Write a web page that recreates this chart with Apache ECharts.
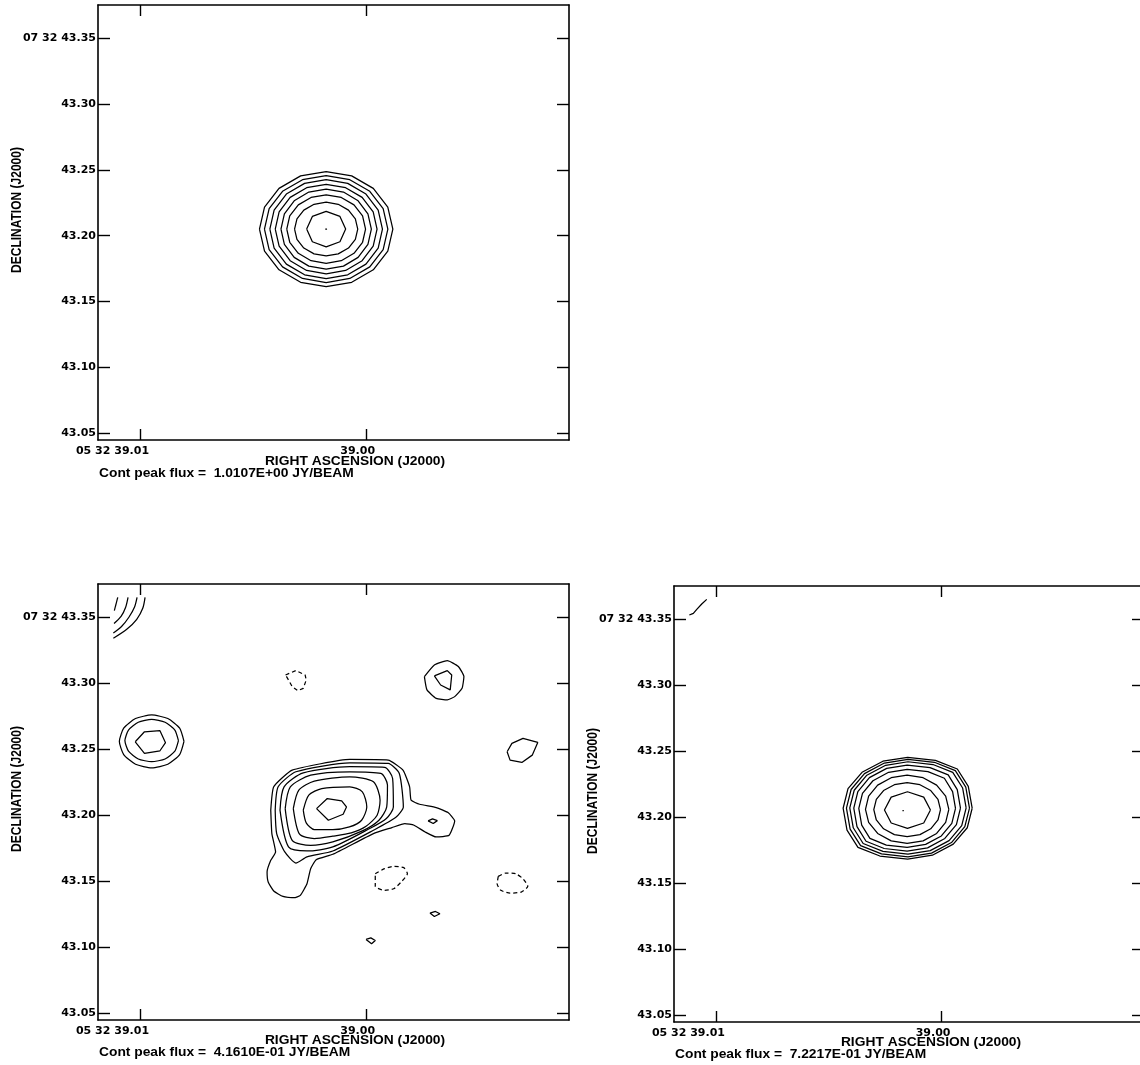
<!DOCTYPE html>
<html><head><meta charset="utf-8">
<script src="https://cdn.jsdelivr.net/npm/echarts@6/dist/echarts.min.js"></script>
<style>html,body{margin:0;padding:0;background:#fff}#c{width:1140px;height:1065px}</style>
</head><body><div id="c"></div>
<script>
// x = RA offset in milliseconds of time from 05 32 39.00 ; y = Dec seconds of arc (07 32 xx)
const RA_TICKS = [10, 0];
const RA_TICK_LABELS = ['05 32 39.01', '39.00'];
const DEC_TICKS = [43.05, 43.10, 43.15, 43.20, 43.25, 43.30, 43.35];
const DEC_TICK_LABELS = ['43.05', '43.10', '43.15', '43.20', '43.25', '43.30', '07 32 43.35'];
const RA_RANGE = [-8.98, 11.86];
const DEC_RANGE = [43.0449, 43.3751];
const PEAK_FLUX = ['1.0107E+00', '4.1610E-01', '7.2217E-01'];

// ---------- Panel 1 contours ----------
const P1_DOT = [[1.805,43.2050],[1.765,43.2058],[1.725,43.2050],[1.765,43.2042]];
const P1_R1 = [[2.628,43.2050],[2.375,43.2146],[1.765,43.2185],[1.155,43.2146],[0.902,43.2050],[1.155,43.1954],[1.765,43.1915],[2.375,43.1954]];
const P1_R2 = [[3.163,43.2050],[3.057,43.2128],[2.753,43.2194],[2.300,43.2238],[1.765,43.2254],[1.230,43.2238],[0.777,43.2194],[0.473,43.2128],[0.367,43.2050],[0.473,43.1972],[0.777,43.1906],[1.230,43.1862],[1.765,43.1847],[2.300,43.1862],[2.753,43.1906],[3.057,43.1972]];
const P1_R3 = [[3.508,43.2050],[3.376,43.2150],[2.997,43.2234],[2.433,43.2290],[1.765,43.2310],[1.097,43.2290],[0.533,43.2234],[0.154,43.2150],[0.022,43.2050],[0.154,43.1950],[0.533,43.1866],[1.097,43.1810],[1.765,43.1790],[2.433,43.1810],[2.997,43.1866],[3.376,43.1950]];
const P1_R4 = [[3.765,43.2050],[3.613,43.2166],[3.179,43.2265],[2.531,43.2331],[1.765,43.2354],[0.999,43.2331],[0.351,43.2265],[-0.083,43.2166],[-0.235,43.2050],[-0.083,43.1934],[0.351,43.1835],[0.999,43.1769],[1.765,43.1746],[2.531,43.1769],[3.179,43.1835],[3.613,43.1934]];
const P1_R5 = [[4.017,43.2050],[3.846,43.2180],[3.357,43.2291],[2.627,43.2364],[1.765,43.2390],[0.903,43.2364],[0.173,43.2291],[-0.316,43.2180],[-0.487,43.2050],[-0.316,43.1920],[0.173,43.1810],[0.903,43.1736],[1.765,43.1710],[2.627,43.1736],[3.357,43.1810],[3.846,43.1920]];
const P1_R6 = [[4.256,43.2050],[4.067,43.2194],[3.526,43.2316],[2.719,43.2397],[1.765,43.2426],[0.811,43.2397],[0.004,43.2316],[-0.537,43.2194],[-0.726,43.2050],[-0.537,43.1906],[0.004,43.1784],[0.811,43.1703],[1.765,43.1674],[2.719,43.1703],[3.526,43.1784],[4.067,43.1906]];
const P1_R7 = [[4.495,43.2050],[4.287,43.2206],[3.695,43.2337],[2.811,43.2425],[1.765,43.2456],[0.719,43.2425],[-0.165,43.2337],[-0.757,43.2206],[-0.965,43.2050],[-0.757,43.1894],[-0.165,43.1763],[0.719,43.1675],[1.765,43.1644],[2.811,43.1675],[3.695,43.1763],[4.287,43.1894]];
const P1_R8 = [[4.716,43.2050],[4.492,43.2217],[3.851,43.2359],[2.895,43.2454],[1.765,43.2487],[0.635,43.2454],[-0.321,43.2359],[-0.962,43.2217],[-1.186,43.2050],[-0.962,43.1883],[-0.321,43.1741],[0.635,43.1646],[1.765,43.1613],[2.895,43.1646],[3.851,43.1741],[4.492,43.1883]];

// ---------- Panel 2 contours ----------
const P2_TL_A = [[10.986,43.3650],[11.137,43.3549]];
const P2_TL_B = [[10.531,43.3650],[10.641,43.3573],[10.840,43.3505],[11.150,43.3452]];
const P2_TL_C = [[10.132,43.3650],[10.243,43.3577],[10.486,43.3501],[10.818,43.3429],[11.181,43.3380]];
const P2_TL_D = [[9.778,43.3650],[9.880,43.3567],[10.146,43.3484],[10.588,43.3408],[11.181,43.3340]];
const P2_W_OUT = [[8.055,43.2559],[8.247,43.2659],[8.770,43.2732],[9.485,43.2759],[10.200,43.2732],[10.723,43.2659],[10.915,43.2559],[10.723,43.2459],[10.200,43.2386],[9.485,43.2359],[8.770,43.2386],[8.247,43.2459]];
const P2_W_MID = [[8.300,43.2565],[8.459,43.2645],[8.892,43.2704],[9.485,43.2725],[10.078,43.2704],[10.511,43.2645],[10.670,43.2565],[10.511,43.2485],[10.078,43.2426],[9.485,43.2405],[8.892,43.2426],[8.459,43.2485]];
const P2_W_IN = [[10.212,43.2556],[9.804,43.2632],[9.118,43.2640],[8.873,43.2549],[9.118,43.2488],[9.804,43.2468]];
const P2_NEG_N = [[3.562,43.3062],[3.105,43.3095],[2.696,43.3062],[2.647,43.3024],[2.778,43.2961],[3.023,43.2943],[3.268,43.2974],[3.431,43.3024]];
const P2_NE_OUT = [[-2.582,43.3050],[-3.023,43.3138],[-3.595,43.3171],[-4.085,43.3126],[-4.330,43.3050],[-4.248,43.2961],[-3.922,43.2898],[-3.595,43.2873],[-3.105,43.2885],[-2.696,43.2949]];
const P2_NE_IN = [[-3.023,43.3055],[-3.595,43.3095],[-3.791,43.3062],[-3.725,43.2949],[-3.301,43.2986]];
const P2_E = [[-6.242,43.2481],[-6.454,43.2544],[-6.944,43.2582],[-7.598,43.2551],[-7.353,43.2455],[-6.895,43.2400],[-6.373,43.2417]];
const P2_C1 = [[2.190,43.2050],[1.716,43.2126],[1.078,43.2109],[0.866,43.2063],[1.013,43.2007],[1.667,43.1962]];
const P2_C2 = [[2.778,43.2038],[2.533,43.2152],[1.961,43.2202],[0.719,43.2215],[0.163,43.2177],[-0.033,43.2063],[0.196,43.1962],[0.735,43.1911],[1.471,43.1891],[2.288,43.1891],[2.647,43.1942]];
const P2_C3 = [[3.219,43.2050],[2.974,43.2190],[2.288,43.2258],[0.719,43.2291],[-0.327,43.2253],[-0.621,43.2114],[-0.490,43.2000],[0.000,43.1916],[0.654,43.1866],[1.471,43.1841],[2.288,43.1823],[2.941,43.1856]];
const P2_C4 = [[3.578,43.2050],[3.350,43.2215],[2.451,43.2303],[0.719,43.2329],[-0.654,43.2316],[-0.948,43.2228],[-0.915,43.2063],[-0.572,43.1962],[0.163,43.1881],[1.471,43.1798],[2.451,43.1772],[3.268,43.1810]];
const P2_C5 = [[3.807,43.2038],[3.627,43.2215],[2.778,43.2321],[0.719,43.2367],[-0.817,43.2362],[-1.176,43.2278],[-1.209,43.2063],[-0.899,43.1975],[-0.163,43.1899],[1.471,43.1760],[2.614,43.1729],[3.431,43.1760]];
const P2_C6 = [[4.020,43.2038],[3.889,43.2215],[3.105,43.2329],[0.719,43.2397],[-0.980,43.2392],[-1.471,43.2316],[-1.650,43.2063],[-1.307,43.1982],[-0.327,43.1886],[1.471,43.1729],[2.614,43.1684],[3.105,43.1638],[3.595,43.1722],[3.954,43.1861]];
const P2_C7 = [[4.216,43.2038],[4.085,43.2215],[3.268,43.2341],[0.719,43.2422],[-0.980,43.2417],[-1.634,43.2341],[-1.928,43.2215],[-1.993,43.2114],[-2.369,43.2083],[-3.105,43.2058],[-3.627,43.2020],[-3.922,43.1957],[-3.676,43.1848],[-3.105,43.1835],[-2.614,43.1873],[-2.124,43.1924],[-1.716,43.1937],[-1.144,43.1906],[-0.327,43.1861],[1.471,43.1704],[2.206,43.1663],[2.451,43.1595],[2.614,43.1481],[2.908,43.1393],[3.186,43.1375],[3.676,43.1385],[4.085,43.1426],[4.330,43.1494],[4.379,43.1570],[4.216,43.1658],[4.003,43.1722],[4.167,43.1861]];
const P2_HEAD = [[-2.745,43.1957],[-2.941,43.1972],[-3.154,43.1959],[-2.974,43.1937]];
const P2_NEG_S = [[-0.408,43.1557],[-0.817,43.1595],[-1.225,43.1613],[-1.667,43.1603],[-1.830,43.1557],[-1.552,43.1494],[-1.225,43.1443],[-0.817,43.1431],[-0.408,43.1461]];
const P2_NEG_SE = [[-5.850,43.1537],[-6.176,43.1562],[-6.618,43.1557],[-6.944,43.1519],[-7.157,43.1461],[-6.863,43.1418],[-6.373,43.1410],[-5.964,43.1431],[-5.801,43.1481]];
const P2_SPOT_A = [[-2.827,43.1259],[-3.072,43.1271],[-3.268,43.1254],[-3.023,43.1233]];
const P2_SPOT_B = [[0.000,43.1059],[-0.212,43.1071],[-0.408,43.1051],[-0.245,43.1026]];

// ---------- Panel 3 contours ----------
const P3_EDGE = [[11.180,43.3531],[11.002,43.3544],[10.851,43.3574],[10.630,43.3615],[10.408,43.3650]];
const P3_DOT = [[1.730,43.2049],[1.700,43.2054],[1.670,43.2049],[1.700,43.2044]];
const P3_R1 = [[0.488,43.2054],[0.787,43.2152],[1.508,43.2193],[2.229,43.2152],[2.528,43.2054],[2.229,43.1956],[1.508,43.1915],[0.787,43.1956]];
const P3_R2 = [[0.043,43.2057],[0.155,43.2135],[0.476,43.2202],[0.956,43.2246],[1.522,43.2262],[2.088,43.2246],[2.568,43.2202],[2.889,43.2135],[3.001,43.2057],[2.889,43.1979],[2.568,43.1912],[2.088,43.1868],[1.522,43.1853],[0.956,43.1868],[0.476,43.1912],[0.155,43.1979]];
const P3_R3 = [[-0.326,43.2060],[-0.186,43.2159],[0.215,43.2243],[0.815,43.2299],[1.522,43.2319],[2.229,43.2299],[2.829,43.2243],[3.230,43.2159],[3.370,43.2060],[3.230,43.1961],[2.829,43.1877],[2.229,43.1821],[1.522,43.1801],[0.815,43.1821],[0.215,43.1877],[-0.186,43.1961]];
const P3_R4 = [[-0.622,43.2067],[-0.493,43.2194],[-0.129,43.2295],[0.600,43.2345],[1.522,43.2363],[2.343,43.2340],[3.038,43.2276],[3.503,43.2180],[3.666,43.2067],[3.537,43.1940],[3.173,43.1840],[2.444,43.1789],[1.522,43.1772],[0.701,43.1794],[0.006,43.1858],[-0.459,43.1954]];
const P3_R5 = [[-0.842,43.2069],[-0.700,43.2209],[-0.298,43.2320],[0.506,43.2375],[1.523,43.2395],[2.429,43.2370],[3.195,43.2300],[3.708,43.2194],[3.888,43.2069],[3.746,43.1929],[3.344,43.1818],[2.540,43.1763],[1.523,43.1743],[0.617,43.1768],[-0.149,43.1839],[-0.662,43.1944]];
const P3_R6 = [[-1.094,43.2070],[-0.939,43.2221],[-0.501,43.2340],[0.377,43.2399],[1.486,43.2420],[2.474,43.2393],[3.310,43.2318],[3.870,43.2204],[4.066,43.2070],[3.911,43.1920],[3.473,43.1801],[2.595,43.1741],[1.486,43.1720],[0.498,43.1747],[-0.338,43.1823],[-0.898,43.1936]];
const P3_R7 = [[-1.242,43.2069],[-1.078,43.2228],[-0.615,43.2353],[0.313,43.2416],[1.486,43.2438],[2.531,43.2410],[3.415,43.2330],[4.007,43.2210],[4.214,43.2069],[4.050,43.1910],[3.587,43.1785],[2.659,43.1722],[1.486,43.1700],[0.441,43.1728],[-0.443,43.1808],[-1.035,43.1928]];
const P3_R8 = [[-1.361,43.2068],[-1.189,43.2234],[-0.703,43.2365],[0.270,43.2430],[1.500,43.2453],[2.596,43.2424],[3.523,43.2340],[4.144,43.2216],[4.361,43.2068],[4.189,43.1902],[3.703,43.1772],[2.730,43.1706],[1.500,43.1683],[0.404,43.1712],[-0.523,43.1796],[-1.144,43.1920]];

// ---------- build ----------
const SOLID = 'solid', DASH = [4, 3];
const CONTOURS = [
  {g:0,d:P1_DOT},{g:0,d:P1_R1},{g:0,d:P1_R2},{g:0,d:P1_R3},{g:0,d:P1_R4},{g:0,d:P1_R5},{g:0,d:P1_R6},{g:0,d:P1_R7},{g:0,d:P1_R8},
  {g:1,d:P2_TL_A,open:true},{g:1,d:P2_TL_B,open:true,s:0.3},{g:1,d:P2_TL_C,open:true,s:0.3},{g:1,d:P2_TL_D,open:true,s:0.3},
  {g:1,d:P2_W_OUT,s:0.2},{g:1,d:P2_W_MID,s:0.2},{g:1,d:P2_W_IN},
  {g:1,d:P2_NEG_N,dash:true},{g:1,d:P2_NE_OUT,s:0.15},{g:1,d:P2_NE_IN},{g:1,d:P2_E},
  {g:1,d:P2_C1},{g:1,d:P2_C2,s:0.25},{g:1,d:P2_C3,s:0.25},{g:1,d:P2_C4,s:0.25},{g:1,d:P2_C5,s:0.25},{g:1,d:P2_C6,s:0.2},{g:1,d:P2_C7,s:0.15},
  {g:1,d:P2_HEAD},{g:1,d:P2_NEG_S,dash:true,s:0.2},{g:1,d:P2_NEG_SE,dash:true,s:0.2},{g:1,d:P2_SPOT_A},{g:1,d:P2_SPOT_B},
  {g:2,d:P3_EDGE,open:true},{g:2,d:P3_DOT},{g:2,d:P3_R1},{g:2,d:P3_R2},{g:2,d:P3_R3},{g:2,d:P3_R4},{g:2,d:P3_R5},{g:2,d:P3_R6},{g:2,d:P3_R7},{g:2,d:P3_R8}
];

const GRIDS = [
  {left:98, top:5, width:471, height:435},
  {left:98, top:584, width:471, height:436},
  {left:674, top:586, width:470, height:436}
];

function nearestLabel(v, ticks, labels) {
  let bi = 0, bd = Infinity;
  ticks.forEach((t, i) => { const d = Math.abs(t - v); if (d < bd) { bd = d; bi = i; } });
  return bd < 1e-6 ? labels[bi] : '';
}
const LABEL_FONT = {fontFamily:'DejaVu Sans', fontWeight:'bold', fontSize:11, color:'#000', lineHeight:12};
const AX_LINE = {show:true, onZero:false, lineStyle:{color:'#000', width:1.6}};

const xAxis = [], yAxis = [];
GRIDS.forEach((g, i) => {
  ['bottom','top'].forEach(pos => {
    xAxis.push({
      gridIndex:i, type:'value', position:pos, min:RA_RANGE[0], max:RA_RANGE[1], inverse:true,
      splitLine:{show:false}, axisLine:AX_LINE,
      axisTick:{show:true, inside:true, length:11, customValues:RA_TICKS, lineStyle:{color:'#000', width:1.4}},
      axisLabel:Object.assign({show:pos==='bottom', customValues:RA_TICKS, margin:5, align:'right', padding:[0,-9,0,0],
        formatter:v => nearestLabel(v, RA_TICKS, RA_TICK_LABELS)}, LABEL_FONT)
    });
  });
  ['left','right'].forEach(pos => {
    yAxis.push({
      gridIndex:i, type:'value', position:pos, min:DEC_RANGE[0], max:DEC_RANGE[1],
      splitLine:{show:false}, axisLine:AX_LINE,
      axisTick:{show:true, inside:true, length:12, customValues:DEC_TICKS, lineStyle:{color:'#000', width:1.4}},
      axisLabel:Object.assign({show:pos==='left', customValues:DEC_TICKS, margin:2,
        formatter:v => nearestLabel(v, DEC_TICKS, DEC_TICK_LABELS)}, LABEL_FONT)
    });
  });
});

const series = CONTOURS.map(c => ({
  type:'line', xAxisIndex:c.g*2, yAxisIndex:c.g*2,
  data: c.open ? c.d : c.d.concat([c.d[0]]),
  symbol:'none', showSymbol:false, smooth:c.s || false, silent:true, clip:true,
  lineStyle:{color:'#000', width:1.25, type: c.dash ? DASH : SOLID},
  emphasis:{disabled:true}
}));

const TITLE_FONT = 'bold 12px "Liberation Sans", Arial, sans-serif';
const graphic = [];
const OFFS = [[0,0],[0,579],[576,581]];
OFFS.forEach((o, i) => {
  graphic.push({type:'text', x:355+o[0], y:462+o[1], scaleX:1.15,
    style:{text:'RIGHT ASCENSION (J2000)', font:TITLE_FONT, fill:'#000', textAlign:'center', textVerticalAlign:'middle', align:'center', verticalAlign:'middle'}});
  graphic.push({type:'text', x:99+o[0], y:473.5+o[1], scaleX:1.15,
    style:{text:'Cont peak flux =  ' + PEAK_FLUX[i] + ' JY/BEAM', font:TITLE_FONT, fill:'#000', textAlign:'left', textVerticalAlign:'middle', align:'left', verticalAlign:'middle'}});
  graphic.push({type:'text', x:17+o[0], y:210+o[1], rotation:Math.PI/2, scaleY:1.15,
    style:{text:'DECLINATION (J2000)', font:TITLE_FONT, fill:'#000', textAlign:'center', textVerticalAlign:'middle', align:'center', verticalAlign:'middle'}});
});

const chart = echarts.init(document.getElementById('c'), null, {renderer:'canvas'});
chart.setOption({
  animation:false, backgroundColor:'#fff',
  grid: GRIDS.map(g => Object.assign({containLabel:false, outerBoundsMode:'none', show:false}, g)),
  xAxis, yAxis, series, graphic
});
</script></body></html>
